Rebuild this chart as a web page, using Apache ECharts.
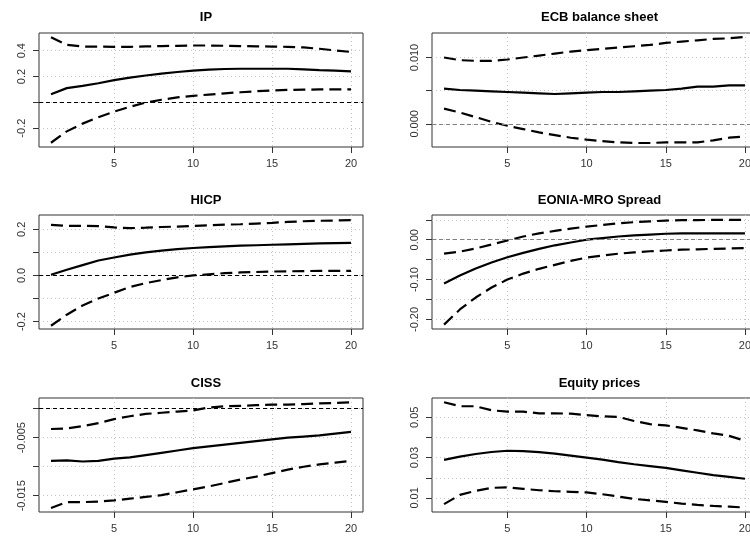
<!DOCTYPE html>
<html>
<head>
<meta charset="utf-8">
<script src="https://cdn.jsdelivr.net/npm/echarts@6/dist/echarts.min.js"></script>
<style>
  html, body { margin: 0; padding: 0; background: #fff; }
  #chart { width: 750px; height: 540px; }
</style>
</head>
<body>
<div id="chart"></div>
<script>
// Impulse responses over a 20-period horizon: point estimate with upper/lower bands
const horizon = [1, 2, 3, 4, 5, 6, 7, 8, 9, 10, 11, 12, 13, 14, 15, 16, 17, 18, 19, 20];
const xTicks = [5, 10, 15, 20];

const panelTitles = ['IP', 'ECB balance sheet', 'HICP', 'EONIA-MRO Spread', 'CISS', 'Equity prices'];

// IP
const ipUpper = [0.504, 0.445, 0.432, 0.432, 0.430, 0.430, 0.433, 0.436, 0.438, 0.440, 0.440, 0.438, 0.436, 0.434, 0.432, 0.430, 0.425, 0.415, 0.402, 0.390];
const ipMid   = [0.062, 0.110, 0.128, 0.148, 0.172, 0.192, 0.208, 0.222, 0.235, 0.245, 0.254, 0.258, 0.260, 0.260, 0.260, 0.260, 0.256, 0.250, 0.245, 0.240];
const ipLower = [-0.313, -0.225, -0.165, -0.115, -0.072, -0.035, -0.002, 0.020, 0.038, 0.050, 0.060, 0.070, 0.078, 0.086, 0.092, 0.096, 0.098, 0.100, 0.100, 0.100];

// ECB balance sheet
const ecbUpper = [0.0100, 0.0096, 0.0095, 0.0095, 0.0097, 0.0100, 0.0103, 0.0106, 0.0109, 0.0111, 0.0113, 0.0115, 0.0117, 0.0119, 0.0122, 0.0124, 0.0126, 0.0128, 0.0129, 0.0131];
const ecbMid   = [0.0053, 0.0051, 0.0050, 0.0049, 0.0048, 0.0047, 0.0046, 0.0045, 0.0046, 0.0047, 0.0048, 0.0048, 0.0049, 0.0050, 0.0051, 0.0053, 0.0056, 0.0056, 0.0058, 0.0058];
const ecbLower = [0.0023, 0.0017, 0.0010, 0.0003, -0.0003, -0.0008, -0.0013, -0.0017, -0.0021, -0.0024, -0.0026, -0.0028, -0.0029, -0.0029, -0.0028, -0.0028, -0.0028, -0.0025, -0.0021, -0.0019];

// HICP
const hicpUpper = [0.219, 0.215, 0.215, 0.214, 0.208, 0.205, 0.207, 0.210, 0.212, 0.215, 0.217, 0.220, 0.222, 0.225, 0.228, 0.232, 0.235, 0.237, 0.238, 0.240];
const hicpMid   = [0.003, 0.025, 0.045, 0.065, 0.078, 0.090, 0.100, 0.108, 0.114, 0.119, 0.123, 0.126, 0.129, 0.131, 0.133, 0.135, 0.137, 0.139, 0.140, 0.141];
const hicpLower = [-0.218, -0.170, -0.130, -0.100, -0.075, -0.050, -0.033, -0.020, -0.008, 0.000, 0.005, 0.010, 0.013, 0.015, 0.017, 0.018, 0.019, 0.020, 0.020, 0.020];

// EONIA-MRO spread
const eoniaUpper = [-0.035, -0.030, -0.022, -0.012, -0.002, 0.008, 0.016, 0.022, 0.028, 0.033, 0.037, 0.041, 0.044, 0.046, 0.048, 0.049, 0.049, 0.050, 0.050, 0.050];
const eoniaMid   = [-0.110, -0.090, -0.072, -0.057, -0.044, -0.033, -0.023, -0.014, -0.007, 0.000, 0.004, 0.008, 0.011, 0.013, 0.015, 0.016, 0.016, 0.016, 0.016, 0.016];
const eoniaLower = [-0.213, -0.175, -0.145, -0.120, -0.100, -0.085, -0.073, -0.063, -0.053, -0.045, -0.040, -0.035, -0.032, -0.029, -0.027, -0.025, -0.024, -0.023, -0.022, -0.021];

// CISS
const cissUpper = [-0.0035, -0.0034, -0.0030, -0.0025, -0.0018, -0.0013, -0.0009, -0.0007, -0.0005, -0.0003, 0.0002, 0.0004, 0.0005, 0.0006, 0.0007, 0.0007, 0.0008, 0.0009, 0.0010, 0.0011];
const cissMid   = [-0.0090, -0.0089, -0.0091, -0.0090, -0.0086, -0.0084, -0.0080, -0.0076, -0.0072, -0.0068, -0.0065, -0.0062, -0.0059, -0.0056, -0.0053, -0.0050, -0.0048, -0.0046, -0.0043, -0.0040];
const cissLower = [-0.0171, -0.0161, -0.0161, -0.0160, -0.0158, -0.0155, -0.0152, -0.0149, -0.0144, -0.0139, -0.0134, -0.0128, -0.0122, -0.0117, -0.0111, -0.0105, -0.0100, -0.0096, -0.0093, -0.0090];

// Equity prices
const eqUpper = [0.0575, 0.0555, 0.0555, 0.0535, 0.0528, 0.0528, 0.0520, 0.0520, 0.0518, 0.0511, 0.0505, 0.0502, 0.0482, 0.0466, 0.0460, 0.0448, 0.0435, 0.0420, 0.0408, 0.0384];
const eqMid   = [0.0289, 0.0305, 0.0318, 0.0328, 0.0334, 0.0332, 0.0327, 0.0320, 0.0310, 0.0300, 0.0290, 0.0278, 0.0267, 0.0258, 0.0249, 0.0237, 0.0225, 0.0213, 0.0204, 0.0195];
const eqLower = [0.0069, 0.0115, 0.0135, 0.0150, 0.0152, 0.0145, 0.0138, 0.0133, 0.0130, 0.0127, 0.0118, 0.0107, 0.0095, 0.0088, 0.0080, 0.0072, 0.0065, 0.0060, 0.0057, 0.0052];

// y tick positions and the subset of ticks that carry a label
const ipTicks = [-0.2, 0, 0.2, 0.4],                    ipLabels = [-0.2, 0.2, 0.4];
const ecbTicks = [0, 0.005, 0.01],                      ecbLabels = [0, 0.01];
const hicpTicks = [-0.2, -0.1, 0, 0.1, 0.2],            hicpLabels = [-0.2, 0, 0.2];
const eoniaTicks = [-0.2, -0.15, -0.1, -0.05, 0, 0.05], eoniaLabels = [-0.2, -0.1, 0];
const cissTicks = [-0.015, -0.01, -0.005, 0],           cissLabels = [-0.015, -0.005];
const eqTicks = [0.01, 0.02, 0.03, 0.04, 0.05],         eqLabels = [0.01, 0.03, 0.05];

const panels = [
  { upper: ipUpper,    mid: ipMid,    lower: ipLower,    ticks: ipTicks,    labels: ipLabels,    dec: 1, min: -0.346,  max: 0.537,  zero: '#000' },
  { upper: ecbUpper,   mid: ecbMid,   lower: ecbLower,   ticks: ecbTicks,   labels: ecbLabels,   dec: 3, min: -0.0035, max: 0.0137, zero: '#808080' },
  { upper: hicpUpper,  mid: hicpMid,  lower: hicpLower,  ticks: hicpTicks,  labels: hicpLabels,  dec: 1, min: -0.232,  max: 0.262,  zero: '#000' },
  { upper: eoniaUpper, mid: eoniaMid, lower: eoniaLower, ticks: eoniaTicks, labels: eoniaLabels, dec: 2, min: -0.224,  max: 0.062,  zero: '#808080' },
  { upper: cissUpper,  mid: cissMid,  lower: cissLower,  ticks: cissTicks,  labels: cissLabels,  dec: 3, min: -0.0178, max: 0.00184, zero: '#000' },
  { upper: eqUpper,    mid: eqMid,    lower: eqLower,    ticks: eqTicks,    labels: eqLabels,    dec: 2, min: 0.003,   max: 0.0596, zero: null }
];

// panel frame geometry (pixels); the right column runs past the canvas edge
const colLeft = [39, 432];
const colWidth = [324, 325];
const rowTop = [33, 215, 398];
const boxHeight = 114;
const titleTop = [6, 189, 372];

const FONT = "'Liberation Sans', Arial, Helvetica, sans-serif";
const chart = echarts.init(document.getElementById('chart'), null, { renderer: 'canvas' });

const grid = [], xAxis = [], yAxis = [], series = [], title = [];
const gridLineStyle = { color: '#c4c4c4', type: [1, 3], width: 1 };

panels.forEach((p, i) => {
  const col = i % 2, row = Math.floor(i / 2);
  grid.push({
    left: colLeft[col], top: rowTop[row], width: colWidth[col], height: boxHeight,
    containLabel: false, outerBoundsMode: 'none',
    show: true, borderColor: '#333', borderWidth: 1, backgroundColor: 'transparent'
  });
  title.push({
    text: panelTitles[i],
    left: colLeft[col] + colWidth[col] / 2, top: titleTop[row], textAlign: 'center',
    textStyle: { fontFamily: FONT, fontSize: 13, fontWeight: 'bold', color: '#000' }
  });
  xAxis.push({
    type: 'value', gridIndex: i, min: 0.24, max: 20.76, position: 'bottom',
    axisLine: { show: false, onZero: false },
    axisTick: { show: true, length: 6, lineStyle: { color: '#333' }, customValues: xTicks },
    axisLabel: { show: true, margin: 11, color: '#333', fontFamily: FONT, fontSize: 11, customValues: xTicks, hideOverlap: false },
    splitLine: { show: true, lineStyle: gridLineStyle }
  });
  yAxis.push({
    type: 'value', gridIndex: i, min: p.min, max: p.max, position: 'left',
    axisLine: { show: false, onZero: false },
    axisTick: { show: true, length: 6, lineStyle: { color: '#333' }, customValues: p.ticks },
    axisLabel: {
      show: true, rotate: 90, margin: 12, color: '#333', fontFamily: FONT, fontSize: 11,
      customValues: p.labels, hideOverlap: false,
      formatter: v => Number(v).toFixed(p.dec)
    },
    splitLine: { show: true, lineStyle: gridLineStyle }
  });

  const toPairs = arr => horizon.map((h, k) => [h, arr[k]]);
  const base = {
    type: 'line', xAxisIndex: i, yAxisIndex: i, showSymbol: false, symbol: 'none',
    silent: true, animation: false, clip: true
  };
  series.push(Object.assign({}, base, {
    name: 'upper', data: toPairs(p.upper),
    lineStyle: { color: '#000', width: 2.2, type: [12, 6] }
  }));
  const midSeries = Object.assign({}, base, {
    name: 'response', data: toPairs(p.mid),
    lineStyle: { color: '#000', width: 2.2, type: 'solid' }
  });
  if (p.zero) {
    midSeries.markLine = {
      silent: true, symbol: ['none', 'none'], animation: false,
      label: { show: false },
      lineStyle: { color: p.zero, width: 1, type: [4, 3] },
      data: [{ yAxis: 0 }]
    };
  }
  series.push(midSeries);
  series.push(Object.assign({}, base, {
    name: 'lower', data: toPairs(p.lower),
    lineStyle: { color: '#000', width: 2.2, type: [12, 6] }
  }));
});

chart.setOption({
  backgroundColor: '#fff',
  animation: false,
  title, grid, xAxis, yAxis, series
});
</script>
</body>
</html>
